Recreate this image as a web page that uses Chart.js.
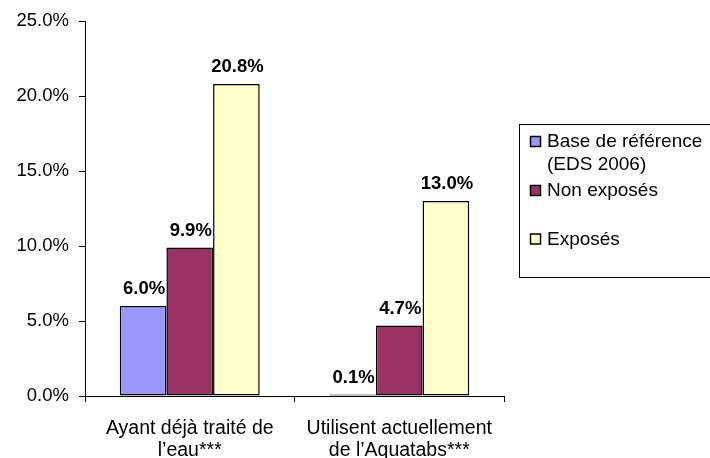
<!DOCTYPE html>
<html>
<head>
<meta charset="utf-8">
<script src="https://cdn.jsdelivr.net/npm/chart.js@4"></script>
<style>
html,body{margin:0;padding:0;background:#fff;}
canvas{display:block;}
</style>
</head>
<body>
<canvas id="c" width="710" height="458"></canvas>
<script>
const categories = [["Ayant déjà traité de", "l’eau***"], ["Utilisent actuellement", "de l’Aquatabs***"]];
const seriesNames = [["Base de référence", "(EDS 2006)"], ["Non exposés"], ["Exposés"]];
const baseValues = [6.0, 0.1];
const nonExposesValues = [9.9, 4.7];
const exposesValues = [20.8, 13.0];
const seriesColors = ["#9999FF", "#993366", "#FFFFCC"];
const yTickMax = 25;
const yTickStep = 5;

const FONT = "'Liberation Sans', Arial, sans-serif";

const dataLabels = {
  id: 'dataLabels',
  afterDatasetsDraw(chart) {
    const ctx = chart.ctx;
    ctx.save();
    ctx.font = "bold 18.5px " + FONT;
    ctx.fillStyle = "#000";
    ctx.textAlign = "center";
    ctx.textBaseline = "alphabetic";
    chart.data.datasets.forEach((ds, i) => {
      const meta = chart.getDatasetMeta(i);
      meta.data.forEach((bar, j) => {
        ctx.fillText(ds.data[j].toFixed(1) + "%", bar.x + 1, bar.y - 12);
      });
    });
    ctx.restore();
  }
};

const boxLegend = {
  id: 'boxLegend',
  afterDraw(chart) {
    const ctx = chart.ctx;
    ctx.save();
    ctx.strokeStyle = "#000";
    ctx.lineWidth = 1;
    ctx.strokeRect(519.5, 124.5, 260, 153);
    ctx.font = "19px " + FONT;
    ctx.fillStyle = "#000";
    ctx.textAlign = "left";
    ctx.textBaseline = "alphabetic";
    const baselines = [[147, 170], [196], [244.5]];
    chart.data.datasets.forEach((ds, i) => {
      const lines = seriesNames[i];
      const b0 = baselines[i][0];
      ctx.fillStyle = ds.backgroundColor;
      ctx.fillRect(530, b0 - 11, 11, 11);
      ctx.strokeStyle = "#000";
      ctx.lineWidth = 1.5;
      ctx.strokeRect(530.5, b0 - 10.5, 10, 10);
      ctx.fillStyle = "#000";
      lines.forEach((t, k) => ctx.fillText(t, 547, baselines[i][k]));
    });
    ctx.restore();
  }
};

new Chart(document.getElementById('c'), {
  type: 'bar',
  data: {
    labels: categories,
    datasets: [
      { label: seriesNames[0].join(' '), data: baseValues, backgroundColor: seriesColors[0] },
      { label: seriesNames[1].join(' '), data: nonExposesValues, backgroundColor: seriesColors[1] },
      { label: seriesNames[2].join(' '), data: exposesValues, backgroundColor: seriesColors[2] }
    ].map(d => Object.assign(d, { borderColor: "#000", borderWidth: 1.5, borderSkipped: false, categoryPercentage: 0.668, barPercentage: 1 }))
  },
  options: {
    responsive: false,
    animation: false,
    devicePixelRatio: 1,
    layout: { padding: { left: 0, right: 206, top: 21, bottom: 0 } },
    plugins: { legend: { display: false }, tooltip: { enabled: false } },
    scales: {
      x: {
        offset: true,
        grid: { offset: true, drawOnChartArea: false, drawTicks: true, tickLength: 6, color: "#000" },
        border: { display: true, color: "#000", width: 1 },
        ticks: { color: "#000", font: { family: FONT, size: 19.5, lineHeight: 1.13 }, padding: 16, maxRotation: 0, autoSkip: false },
        afterFit(s) { s.height = 62; }
      },
      y: {
        min: 0, max: yTickMax,
        grid: { drawOnChartArea: false, drawTicks: true, tickLength: 6, color: "#000" },
        border: { display: true, color: "#000", width: 1 },
        ticks: { stepSize: yTickStep, color: "#000", font: { family: FONT, size: 18.5 }, padding: 10, callback: v => v.toFixed(1) + "%" },
        afterFit(s) { s.width = 85; }
      }
    }
  },
  plugins: [dataLabels, boxLegend]
});
</script>
</body>
</html>
